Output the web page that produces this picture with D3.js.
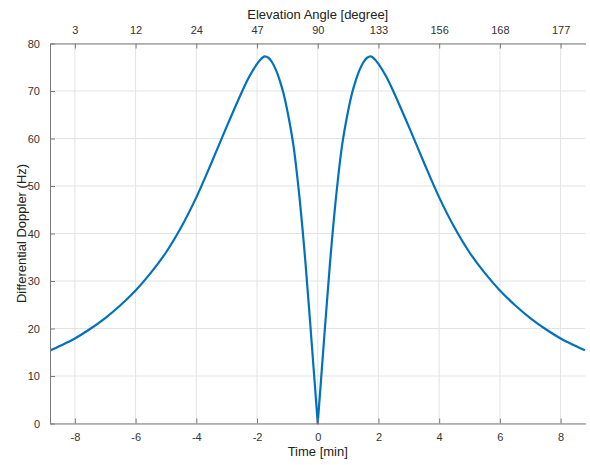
<!DOCTYPE html>
<html>
<head>
<meta charset="utf-8">
<script src="https://cdn.jsdelivr.net/npm/d3@7"></script>
<style>
  html, body { margin: 0; padding: 0; background: #fff; }
  svg { display: block; font-family: "Liberation Sans", Arial, Helvetica, sans-serif; }
</style>
</head>
<body>
<svg id="chart" width="590" height="465"></svg>
<script>
// Time samples across the pass [min]
const timeMin = [
  -8.8, -8.5, -8, -7.5, -7, -6.5, -6, -5.5, -5, -4.5, -4, -3.5, -3, -2.5, -2.25, -2,
  -1.875, -1.75, -1.625, -1.5, -1.375, -1.25, -1.125, -1, -0.8, -0.6, -0.4, -0.2, 0,
  0.2, 0.4, 0.6, 0.8, 1, 1.125, 1.25, 1.375, 1.5, 1.625, 1.75, 1.875,
  2, 2.25, 2.5, 3, 3.5, 4, 4.5, 5, 5.5, 6, 6.5, 7, 7.5, 8, 8.5, 8.8
];
// Differential Doppler magnitude at each sample [Hz]
const doppler = [
  15.4, 16.3, 17.9, 19.9, 22.2, 24.9, 28.0, 31.7, 36.0, 41.3, 47.6, 54.9, 62.5, 69.8, 73.1, 75.7,
  76.7, 77.3, 77.0, 76.0, 74.4, 72.2, 69.4, 65.8, 58.5, 47.5, 33.5, 17.0, 0,
  17.0, 33.5, 47.5, 58.5, 65.8, 69.4, 72.2, 74.4, 76.0, 77.0, 77.3, 76.7,
  75.7, 73.1, 69.8, 62.5, 54.9, 47.6, 41.3, 36.0, 31.7, 28.0, 24.9, 22.2, 19.9, 17.9, 16.3, 15.4
];

// Bottom axis ticks (time) and the matching elevation angles on the top axis
const timeTicks = [-8, -6, -4, -2, 0, 2, 4, 6, 8];
const elevationLabels = ["3", "12", "24", "47", "90", "133", "156", "168", "177"];
const dopplerTicks = [0, 10, 20, 30, 40, 50, 60, 70, 80];

const svg = d3.select("#chart");
const margin = { left: 50, right: 4.5, top: 43.5, bottom: 41.5 };
const W = 590, H = 465;

const x = d3.scaleLinear().domain([-8.82, 8.82]).range([margin.left, W - margin.right]);
const y = d3.scaleLinear().domain([0, 80]).range([H - margin.bottom, margin.top]);

const axisColor = "#7a7a7a";
const textColor = "#333";

// grid
const grid = svg.append("g");
grid.selectAll("line.v").data(timeTicks).join("line")
  .attr("x1", d => x(d)).attr("x2", d => x(d))
  .attr("y1", y(0)).attr("y2", y(80))
  .attr("stroke", "#e3e3e3").attr("stroke-width", 1);
grid.selectAll("line.h").data(dopplerTicks).join("line")
  .attr("x1", x.range()[0]).attr("x2", x.range()[1])
  .attr("y1", d => y(d)).attr("y2", d => y(d))
  .attr("stroke", "#e3e3e3").attr("stroke-width", 1);

// curve: drawn as two smooth branches that meet in the cusp at t = 0
const points = timeMin.map((t, i) => [t, doppler[i]]);
const line = d3.line()
  .x(d => x(d[0]))
  .y(d => y(d[1]))
  .curve(d3.curveCatmullRom.alpha(0.5));
const before = points.filter(p => p[0] <= 0);
const after = points.filter(p => p[0] >= 0);
svg.append("path")
  .attr("d", line(before) + line(after).replace(/^M/, "L"))
  .attr("fill", "none")
  .attr("stroke", "#0072BD")
  .attr("stroke-width", 2.2)
  .attr("stroke-linejoin", "round");

function styleAxis(g) {
  g.select(".domain").attr("stroke", axisColor).attr("stroke-width", 1);
  g.selectAll(".tick line").attr("stroke", axisColor);
  g.selectAll(".tick text").attr("fill", textColor).attr("font-size", 11);
}

// bottom axis (time), ticks pointing inward
svg.append("g")
  .attr("transform", `translate(0,${y(0)})`)
  .call(d3.axisBottom(x).tickValues(timeTicks).tickSizeInner(-5).tickSizeOuter(0)
    .tickPadding(10).tickFormat(d => String(d)))
  .call(styleAxis);

// top axis (elevation angle)
svg.append("g")
  .attr("transform", `translate(0,${y(80)})`)
  .call(d3.axisTop(x).tickValues(timeTicks).tickSizeInner(-5).tickSizeOuter(0)
    .tickPadding(10).tickFormat((d, i) => elevationLabels[i]))
  .call(styleAxis);

// left axis (Doppler)
svg.append("g")
  .attr("transform", `translate(${x.range()[0]},0)`)
  .call(d3.axisLeft(y).tickValues(dopplerTicks).tickSizeInner(-5).tickSizeOuter(0)
    .tickPadding(10).tickFormat(d => String(d)))
  .call(styleAxis);

// axis titles
svg.append("text")
  .attr("x", (x.range()[0] + x.range()[1]) / 2).attr("y", 456)
  .attr("text-anchor", "middle").attr("font-size", 13).attr("fill", "#222")
  .text("Time [min]");
svg.append("text")
  .attr("x", (x.range()[0] + x.range()[1]) / 2).attr("y", 19)
  .attr("text-anchor", "middle").attr("font-size", 13).attr("fill", "#222")
  .text("Elevation Angle [degree]");
svg.append("text")
  .attr("transform", `translate(26,${(y(0) + y(80)) / 2}) rotate(-90)`)
  .attr("text-anchor", "middle").attr("font-size", 13).attr("fill", "#222")
  .text("Differential Doppler (Hz)");
</script>
</body>
</html>
